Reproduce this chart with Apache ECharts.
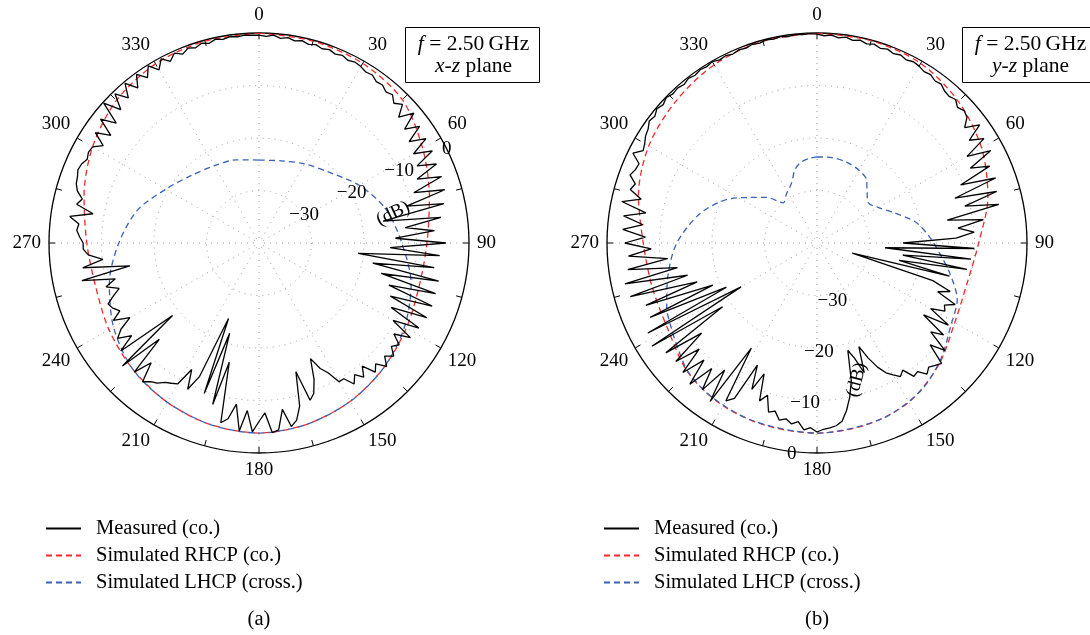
<!DOCTYPE html>
<html>
<head>
<meta charset="utf-8">
<script src="https://cdn.jsdelivr.net/npm/echarts@6/dist/echarts.min.js"></script>
<style>
    html, body { margin: 0; padding: 0; background: #fff; }
    #main { width: 1090px; height: 635px; }
</style>
</head>
<body>
<div id="main"></div>
<script>
(function () {
    // ---- data (dB values, angle in degrees, 0 at top, clockwise) ----
    const seriesNames = ['Measured (co.)', 'Simulated RHCP (co.)', 'Simulated LHCP (cross.)'];
    const angleTicks = [0, 30, 60, 90, 120, 150, 180, 210, 240, 270, 300, 330];
    const radiusTicks = [-40, -30, -20, -10, 0];

    // measured, one value every measStep degrees starting at 0
    const measStep = 2;
    const measuredXZ = [
        -0.4, -0.6, -0.3, -0.8, -0.5, -0.9, -0.6, -1.0, -0.7, -1.1, -0.8, -1.2, -0.9, -1.3, -1.0,
        -1.2, -1.6, -1.4, -2.0, -1.8, -2.4, -2.0, -3.0, -2.0, -4.2, -1.5, -4.8, -2.2, -5.5, -2.5,
        -6.0, -2.6, -6.5, -3.0, -7.5, -3.0, -9.0, -3.2, -11.0, -4.0, -16.0, -5.0, -12.0, -6.5, -14.0,
        -4.4, -15.0, -5.5, -21.0, -6.3, -18.0, -5.0, -16.0, -5.0, -14.0, -4.9, -13.0, -5.0, -12.0, -5.5,
        -10.5, -6.0, -9.0, -7.0, -8.0, -6.5, -7.8, -6.2, -8.0, -6.9, -9.4, -7.6, -9.0, -7.6, -9.5,
        -9.5, -12.0, -13.4, -15.9, -12.0, -9.5, -8.5, -14.5, -8.0, -5.5, -4.5, -8.0, -4.2, -3.8, -7.6,
        -6.0, -4.0, -8.0, -4.0, -9.0, -6.0, -5.0, -16.6, -8.0, -21.9, -9.5, -24.5, -12.2, -9.0, -12.7,
        -9.0, -8.5, -8.0, -7.0, -6.5, -5.5, -9.3, -5.8, -13.6, -5.0, -18.5, -6.6, -10.0, -7.5, -9.0,
        -11.6, -8.6, -10.5, -9.5, -9.0, -10.5, -12.0, -9.7, -11.8, -5.5, -15.0, -6.1, -10.1, -7.4, -6.5,
        -6.5, -5.8, -5.2, -5.5, -3.6, -7.9, -4.5, -5.3, -4.0, -3.4, -3.2, -2.8, -3.0, -3.6, -3.2,
        -3.4, -5.0, -2.4, -5.1, -1.7, -4.5, -0.2, -3.4, -0.5, -2.8, -0.3, -2.5, -0.3, -2.0, -0.2,
        -1.9, -0.3, -1.5, -0.4, -1.2, -0.5, -0.9, -0.4, -0.8, -0.3, -0.6, -0.3, -0.5, -0.3, -0.4
    ];
    const measuredYZ = [
        -0.2, -0.5, -0.3, -0.7, -0.4, -0.8, -0.5, -0.9, -0.6, -1.0, -0.7, -1.1, -0.8, -1.2, -0.9,
        -1.1, -1.5, -1.3, -1.8, -1.6, -2.2, -2.4, -2.0, -2.8, -2.3, -2.7, -4.3, -1.7, -5.0, -2.5,
        -7.0, -2.5, -7.5, -4.0, -10.5, -3.8, -12.4, -4.4, -11.0, -4.6, -14.8, -8.0, -13.0, -10.0, -13.5,
        -23.6, -10.0, -27.0, -10.5, -23.5, -11.0, -24.0, -14.0, -33.0, -16.8, -13.0, -15.2, -11.2, -13.0, -12.4,
        -15.0, -10.5, -15.5, -10.2, -12.5, -8.2, -11.0, -7.0, -7.6, -8.2, -7.4, -8.9, -8.6, -10.8, -10.0,
        -11.0, -12.0, -13.7, -16.0, -18.7, -13.7, -17.0, -18.7, -13.0, -10.0, -7.6, -5.7, -5.0, -4.7, -4.5,
        -4.0, -4.8, -4.3, -5.8, -5.2, -6.0, -5.5, -7.0, -6.5, -9.5, -8.0, -13.1, -9.5, -14.1, -6.5,
        -5.3, -16.4, -3.6, -10.1, -4.5, -8.8, -3.8, -9.0, -4.5, -9.8, -4.9, -12.1, -4.4, -18.3, -2.9,
        -23.3, -3.5, -20.8, -5.2, -18.6, -5.3, -16.0, -3.0, -14.6, -2.6, -13.0, -3.6, -11.4, -4.0, -8.4,
        -3.4, -7.3, -2.9, -6.7, -2.8, -6.9, -2.0, -5.5, -3.0, -3.6, -2.1, -2.7, -2.9, -1.0, -2.5,
        -2.1, -1.5, -1.2, -0.5, -0.8, -0.2, -0.6, -0.1, -0.5, -0.3, -0.6, -0.2, -0.5, -0.2, -0.4,
        -0.1, -0.5, -0.3, -0.6, -0.3, -0.5, -0.2, -0.4, -0.1, -0.3, -0.1, -0.3, -0.1, -0.2, -0.1
    ];

    // simulated, [angle, dB]
    const rhcpXZ = [
        [0, 0], [15, -0.2], [30, -0.5], [45, -1.4], [60, -4.0], [75, -6.4], [90, -8.0], [105, -8.4],
        [120, -7.6], [135, -6.4], [150, -5.2], [165, -4.3], [180, -3.8], [195, -4.2], [210, -5.0],
        [225, -6.0], [240, -7.0], [255, -7.8], [270, -7.2], [285, -5.5], [300, -3.4], [315, -1.6],
        [330, -0.6], [345, -0.2], [360, 0]
    ];
    const lhcpXZ = [
        [0, -24.2], [15, -23.8], [30, -22.6], [45, -21.0], [60, -18.0], [75, -15.0], [90, -12.8],
        [105, -10.0], [120, -8.0], [135, -6.4], [150, -5.2], [165, -4.3], [180, -3.8], [195, -4.2],
        [210, -5.0], [225, -6.0], [240, -8.0], [255, -10.5], [270, -13.3], [285, -16.0], [300, -19.5],
        [315, -21.8], [330, -23.0], [345, -23.6], [360, -24.2]
    ];
    const rhcpYZ = [
        [0, 0], [15, -0.1], [30, -0.5], [45, -1.9], [60, -3.8], [75, -6.3], [90, -9.2], [105, -10.4],
        [120, -9.7], [135, -7.2], [150, -5.0], [165, -4.1], [180, -3.8], [195, -3.9], [210, -4.2],
        [225, -5.2], [240, -7.2], [255, -7.5], [270, -6.9], [285, -4.8], [300, -3.0], [315, -1.9],
        [330, -0.8], [345, -0.2], [360, 0]
    ];
    const lhcpYZ = [
        [0, -23.6], [10, -23.5], [20, -23.6], [30, -24.0], [38, -24.7], [45, -26.5], [52, -27.6],
        [60, -26.5], [68, -24.4], [78, -20.8], [87, -18.5], [95, -16.5], [103, -14.0], [112, -11.2],
        [122, -10.0], [133, -7.7], [145, -5.6], [160, -4.3], [180, -3.8], [200, -4.0], [215, -4.5],
        [225, -5.3], [232, -6.6], [240, -7.9], [247, -8.9], [258, -11.0], [270, -13.3], [284, -17.0],
        [296, -21.0], [304, -24.5], [312, -27.0], [320, -30.0], [328, -29.0], [337, -27.6],
        [343, -25.5], [348, -24.4], [355, -23.8], [360, -23.6]
    ];

    const FONT = '"Liberation Serif", "DejaVu Serif", serif';
    const FS = 19;       // axis numbers
    const FS_TEXT = 20.5; // legend
    const FS_BOX = 21.5;  // note boxes
    const R = 210;
    const centers = [[259, 243], [817, 243]];
    const colors = ['#000000', '#f02a2a', '#3a62b8'];

    function measuredData(vals) {
        const out = vals.map(function (v, i) { return [v, i * measStep]; });
        out.push([vals[0], 360]);
        return out;
    }
    function simData(pairs) {
        return pairs.map(function (p) { return [p[1], p[0]]; });
    }
    function minus(v) {
        return v < 0 ? '\u2212' + (-v) : String(v);
    }

    const polar = [];
    const angleAxis = [];
    const radiusAxis = [];

    // plot polars (0, 1)
    centers.forEach(function (c, i) {
        polar.push({ center: c, radius: R });
        angleAxis.push({
            polarIndex: i,
            type: 'value',
            min: 0,
            max: 360,
            interval: 30,
            startAngle: 90,
            clockwise: true,
            axisLine: { lineStyle: { color: '#000', width: 1.3 } },
            axisTick: { inside: true, length: 6, lineStyle: { color: '#000', width: 1 } },
            minorTick: { show: true, splitNumber: 2, length: 6, lineStyle: { color: '#000', width: 1 } },
            axisLabel: {
                margin: 8,
                color: '#000',
                fontFamily: FONT,
                fontSize: FS,
                formatter: function (v) { return angleTicks.indexOf(v) >= 0 ? String(v) : ''; }
            },
            splitLine: { lineStyle: { color: '#a0a0a0', width: 1, type: [1, 5] } },
            z: 3
        });
        radiusAxis.push({
            polarIndex: i,
            type: 'value',
            min: radiusTicks[0],
            max: radiusTicks[radiusTicks.length - 1],
            interval: 10,
            axisLine: { show: false },
            axisTick: { show: false },
            axisLabel: { show: false },
            splitLine: { lineStyle: { color: '#a0a0a0', width: 1, type: [1, 5] } }
        });
    });

    // extra polars (2, 3) that only carry the dB labels along a tilted radius
    const labelAngles = [25, -105];
    const labelMargins = [6, 30];
    centers.forEach(function (c, i) {
        polar.push({ center: c, radius: R });
        angleAxis.push({
            polarIndex: i + 2,
            type: 'value',
            min: 0,
            max: 360,
            startAngle: labelAngles[i],
            show: false
        });
        radiusAxis.push({
            polarIndex: i + 2,
            type: 'value',
            min: radiusTicks[0],
            max: radiusTicks[radiusTicks.length - 1],
            interval: 10,
            axisLine: { show: false },
            axisTick: { show: false },
            splitLine: { show: false },
            axisLabel: {
                margin: labelMargins[i],
                align: 'center',
                verticalAlign: 'middle',
                color: '#000',
                fontFamily: FONT,
                fontSize: FS,
                formatter: function (v) { return v === radiusTicks[0] ? '' : minus(v); }
            },
            name: '(dB)',
            nameLocation: 'middle',
            nameGap: i === 0 ? 30 : -74,
            nameRotate: i === 0 ? null : 75,
            nameTextStyle: {
                color: '#000',
                fontFamily: FONT,
                fontSize: FS,
                align: 'center',
                verticalAlign: 'middle',
                padding: i === 0 ? [0, 0, 0, 58] : [0, 34, 0, 0]
            },
            z: 4
        });
    });

    const plotData = [
        [measuredData(measuredXZ), simData(rhcpXZ), simData(lhcpXZ)],
        [measuredData(measuredYZ), simData(rhcpYZ), simData(lhcpYZ)]
    ];

    const series = [];
    plotData.forEach(function (set, p) {
        set.forEach(function (d, k) {
            series.push({
                name: seriesNames[k],
                type: 'line',
                coordinateSystem: 'polar',
                polarIndex: p,
                data: d,
                symbol: 'none',
                smooth: k === 0 ? false : 0.3,
                lineStyle: {
                    color: colors[k],
                    width: 1.3,
                    type: k === 0 ? 'solid' : [6, 4]
                },
                itemStyle: { color: colors[k] },
                z: k === 0 ? 4 : 3,
                animation: false
            });
        });
    });

    // legend shows only the line part of each icon (symbol made transparent)
    function legendAt(left) {
        return {
            left: left,
            top: 518,
            padding: 0,
            orient: 'vertical',
            itemWidth: 35,
            itemHeight: 14,
            itemGap: 6,
            selectedMode: false,
            itemStyle: { opacity: 0 },
            data: seriesNames,
            textStyle: { color: '#000', fontFamily: FONT, fontSize: FS_TEXT, padding: [0, 0, 0, 10] }
        };
    }

    function noteBox(x, w, line2) {
        return {
            type: 'group',
            children: [
                {
                    type: 'rect',
                    shape: { x: x, y: 27.5, width: w, height: 55 },
                    style: { fill: '#fff', stroke: '#000', lineWidth: 1 },
                    z: 10
                },
                {
                    type: 'text',
                    x: x + w / 2 + 1,
                    y: 55,
                    style: {
                        text: '{i|f} = 2.50\u2009GHz\n' + line2,
                        align: 'center',
                        verticalAlign: 'middle',
                        fill: '#000',
                        font: FS_BOX + 'px ' + FONT,
                        lineHeight: 22,
                        rich: {
                            i: { fontStyle: 'italic', fontFamily: FONT, fontSize: FS_BOX, lineHeight: 22 }
                        }
                    },
                    z: 11
                }
            ]
        };
    }

    var myChart = echarts.init(document.getElementById('main'), null, { renderer: 'canvas' });
    var option = {
        backgroundColor: '#fff',
        animation: false,
        polar: polar,
        angleAxis: angleAxis,
        radiusAxis: radiusAxis,
        legend: [legendAt(45), legendAt(603)],
        series: series,
        graphic: [
            noteBox(405.5, 134, '{i|x}-{i|z} plane'),
            noteBox(962.5, 134, '{i|y}-{i|z} plane'),
            {
                type: 'text', x: centers[0][0], y: 620,
                style: { text: '(a)', align: 'center', verticalAlign: 'middle', fill: '#000', font: FS_TEXT + 'px ' + FONT }
            },
            {
                type: 'text', x: centers[1][0], y: 620,
                style: { text: '(b)', align: 'center', verticalAlign: 'middle', fill: '#000', font: FS_TEXT + 'px ' + FONT }
            }
        ]
    };
    myChart.setOption(option);
}());
</script>
</body>
</html>
